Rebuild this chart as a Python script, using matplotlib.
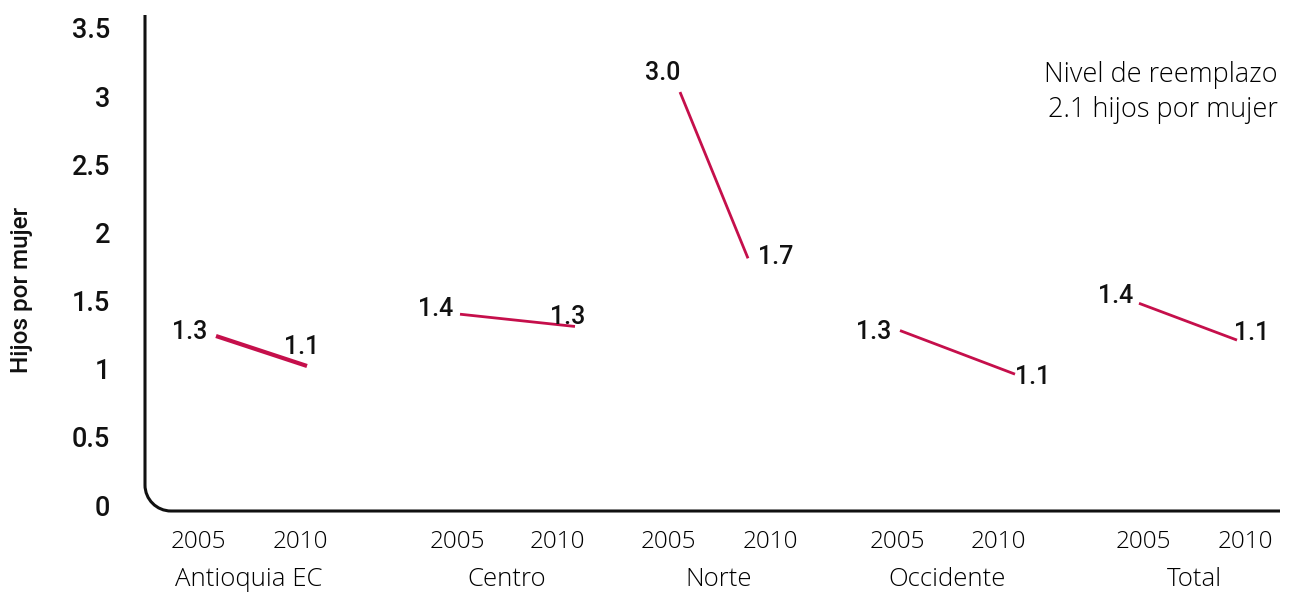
import matplotlib
matplotlib.use("Agg")
import matplotlib.pyplot as plt
from matplotlib.path import Path
from matplotlib.patches import PathPatch

plt.rcParams['font.family'] = ['Roboto', 'DejaVu Sans']
LIGHT = ['Open Sans', 'Roboto', 'DejaVu Sans']

# ---- data ----
regions = ["Antioquia EC", "Centro", "Norte", "Occidente", "Total"]
years = ["2005", "2010"]
values_2005 = [1.24, 1.40, 3.03, 1.28, 1.48]
values_2010 = [1.02, 1.31, 1.81, 0.96, 1.21]
labels_2005 = ["1.3", "1.4", "3.0", "1.3", "1.4"]
labels_2010 = ["1.1", "1.3", "1.7", "1.1", "1.1"]
yticks = [0, 0.5, 1, 1.5, 2, 2.5, 3, 3.5]
ytick_labels = ["0", "0.5", "1", "1.5", "2", "2.5", "3", "3.5"]

# ---- layout (x positions in axis units) ----
tick_x_2005 = [53, 312, 523, 752, 998]
tick_x_2010 = [155, 412, 625, 853, 1100]
line_x_2005 = [71, 315, 535, 755, 994]
line_x_2010 = [162, 430, 603, 870, 1092]
line_widths = [3.0, 2.0, 2.0, 2.0, 2.0]
off_2005 = [(-26, 4), (-24, 5), (-17, 19), (-26, -1), (-23, 7)]
off_2010 = [(-5, 19), (-7, 9), (28, 1), (18, -3), (15, 7)]

W, H = 1297, 592
fig = plt.figure(figsize=(W / 100, H / 100), dpi=100)
left_px, right_px, top_px, bot_px = 145, 1280, 15, 511
ax = fig.add_axes([left_px / W, 1 - bot_px / H, (right_px - left_px) / W, (bot_px - top_px) / H])
ppu = (505 - 28) / 3.5
ax.set_ylim(-(511 - 505) / ppu, 3.5 + (28 - 15) / ppu)
ax.set_xlim(0, right_px - left_px)
for s in ax.spines.values():
    s.set_visible(False)

color = "#C50F4B"
for i in range(len(regions)):
    ax.plot([line_x_2005[i], line_x_2010[i]], [values_2005[i], values_2010[i]],
            color=color, lw=line_widths[i], solid_capstyle='butt')
    ax.annotate(labels_2005[i], (line_x_2005[i], values_2005[i]), xytext=off_2005[i],
                textcoords='offset pixels', ha='center', va='center', fontsize=18,
                fontweight='medium', color='#111111')
    ax.annotate(labels_2010[i], (line_x_2010[i], values_2010[i]), xytext=off_2010[i],
                textcoords='offset pixels', ha='center', va='center', fontsize=18,
                fontweight='medium', color='#111111')

# rounded axis corner
rx = 26 / (right_px - left_px)
ry = 26 / (bot_px - top_px)
k = 0.5523
verts = [(0, 1), (0, ry), (0, ry * (1 - k)), (rx * (1 - k), 0), (rx, 0), (1, 0)]
codes = [Path.MOVETO, Path.LINETO, Path.CURVE4, Path.CURVE4, Path.CURVE4, Path.LINETO]
ax.add_patch(PathPatch(Path(verts, codes), transform=ax.transAxes, fill=False,
                       lw=2.2, edgecolor='#111111', clip_on=False, capstyle='butt'))

ax.set_yticks(yticks)
ax.set_yticklabels(ytick_labels, fontsize=19.5, fontweight='medium', color='#111111')
ax.tick_params(axis='y', length=0, pad=25)
ax.set_xticks(tick_x_2005 + tick_x_2010)
ax.set_xticklabels(years[:1] * 5 + years[1:] * 5, fontsize=17.5, fontweight='light',
                   color='#000000', family=LIGHT)
ax.tick_params(axis='x', length=0, pad=14)

for i, r in enumerate(regions):
    ax.text((tick_x_2005[i] + tick_x_2010[i]) / 2, -0.545, r, ha='center', va='center',
            fontsize=18.5, fontweight='light', color='#000000', family=LIGHT)

fig.text(22 / W, 1 - 290 / H, "Hijos por mujer", rotation=90, ha='center', va='center',
         fontsize=17.5, fontweight='medium', color='#111111')
fig.text(1278 / W, 1 - 75 / H, "Nivel de reemplazo", ha='right', va='center',
         fontsize=19.5, fontweight='light', color='#000000', family=LIGHT)
fig.text(1278 / W, 1 - 110 / H, "2.1 hijos por mujer", ha='right', va='center',
         fontsize=19.5, fontweight='light', color='#000000', family=LIGHT)

fig.savefig("out.png", dpi=100)
